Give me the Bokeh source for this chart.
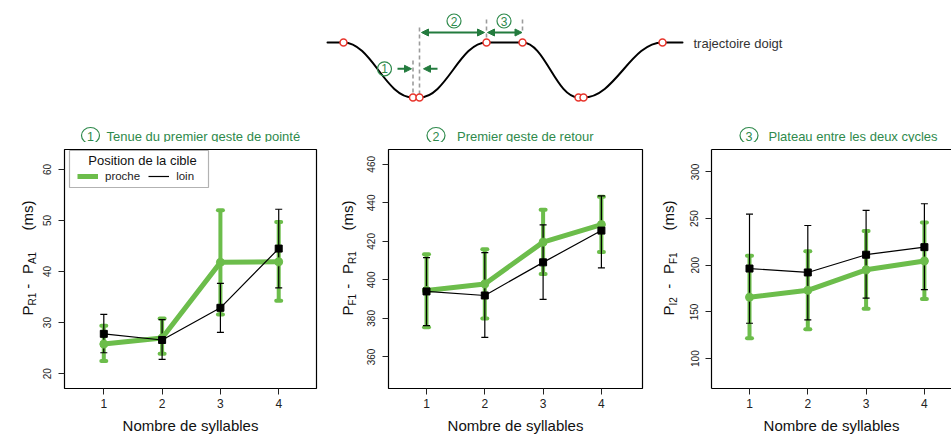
import math
from bokeh.plotting import figure
from bokeh.models import (Range1d, ColumnDataSource, Whisker, TeeHead, Label, BoxAnnotation,
                          Legend, LegendItem, FixedTicker, LinearAxis, Arrow, NormalHead)
from bokeh.layouts import column, row
from bokeh.core.properties import value
from bokeh.embed import file_html
from bokeh.resources import INLINE

FONT = "Liberation Sans"
GREEN = "#6cbd4b"
TITLE_GREEN = "#2f8a4c"
ARROW_GREEN = "#237b3e"
RED = "#e8352c"

# ---------------- data ----------------
syllables = [1, 2, 3, 4]

p1_proche = [25.8, 27.0, 41.8, 41.9]
p1_proche_lo = [22.5, 23.9, 31.6, 34.3]
p1_proche_hi = [29.4, 30.8, 52.0, 49.7]
p1_loin = [27.8, 26.6, 32.9, 44.5]
p1_loin_lo = [24.1, 22.8, 28.1, 36.8]
p1_loin_hi = [31.6, 30.6, 37.7, 52.2]

p2_proche = [394.5, 397.9, 419.6, 428.7]
p2_proche_lo = [375.4, 380.0, 403.1, 414.5]
p2_proche_hi = [413.3, 415.9, 436.4, 443.2]
p2_loin = [394.0, 391.9, 409.1, 425.6]
p2_loin_lo = [376.2, 370.1, 389.9, 406.2]
p2_loin_hi = [411.6, 414.2, 428.6, 443.6]

p3_proche = [165.8, 173.2, 195.1, 204.6]
p3_proche_lo = [121.7, 131.5, 153.4, 164.0]
p3_proche_hi = [210.3, 215.1, 236.7, 245.8]
p3_loin = [196.5, 192.3, 211.3, 219.4]
p3_loin_lo = [137.9, 141.5, 164.8, 173.9]
p3_loin_hi = [254.7, 242.6, 258.9, 265.9]

p1_yticks = [20, 30, 40, 50, 60]
p2_yticks = [360, 380, 400, 420, 440, 460]
p3_yticks = [100, 150, 200, 250, 300]
x_ticks = [1, 2, 3, 4]

panel_titles = ["Tenue du premier geste de pointé", "Premier geste de retour",
                "Plateau entre les deux cycles"]
panel_numbers = ["1", "2", "3"]
legend_title = "Position de la cible"
legend_labels = ["proche", "loin"]
x_label = "Nombre de syllables"

# y-label pieces: (main letter, subscript) pairs
p1_ylab = [("P", "R1"), ("P", "A1")]
p2_ylab = [("P", "F1"), ("P", "R1")]
p3_ylab = [("P", "I2"), ("P", "F1")]

# schematic finger trajectory (key points of the sketch)
traj_x = [327, 343, 412.5, 419, 486, 522, 578, 583, 662, 682]
traj_y = [42, 42, 97, 97, 42, 42, 97, 97, 42, 42]
dot_x = [343, 412.5, 419, 486, 522, 578, 583, 662]
dot_y = [42, 97, 97, 42, 42, 97, 97, 42]
dash_x = [412.5, 419, 486, 522]
dash_y0 = [60, 27, 19, 19]
dash_y1 = [92, 95, 37, 33]


# ---------------- top sketch + panel titles ----------------
top = figure(width=951, height=142, x_range=Range1d(0, 951), y_range=Range1d(142, 0),
             output_backend="svg", toolbar_location=None, x_axis_type=None, y_axis_type=None,
             min_border=0, outline_line_color=None)
top.grid.visible = False

bx0, by0, bx1, by1, c0x, c0y, c1x, c1y = [], [], [], [], [], [], [], []
for i in range(len(traj_x) - 1):
    xa, ya, xb, yb = traj_x[i], traj_y[i], traj_x[i + 1], traj_y[i + 1]
    bx0.append(xa); by0.append(ya); bx1.append(xb); by1.append(yb)
    c0x.append(xa + 0.4 * (xb - xa)); c0y.append(ya)
    c1x.append(xb - 0.4 * (xb - xa)); c1y.append(yb)
top.bezier(x0=bx0, y0=by0, x1=bx1, y1=by1, cx0=c0x, cy0=c0y, cx1=c1x, cy1=c1y,
           line_color="black", line_width=2, line_cap="round")
top.segment(x0=dash_x, y0=dash_y0, x1=dash_x, y1=dash_y1, line_color="#9c9c9c",
            line_width=1.6, line_dash="4 3")
top.scatter(dot_x, dot_y, marker="circle", size=7, fill_color="white",
            line_color=RED, line_width=1.5)

def head():
    return NormalHead(size=7, fill_color=ARROW_GREEN, line_color=ARROW_GREEN)

top.add_layout(Arrow(x_start=421, y_start=32, x_end=484, y_end=32, start=head(), end=head(),
                     line_color=ARROW_GREEN, line_width=2))
top.add_layout(Arrow(x_start=487, y_start=32, x_end=521.5, y_end=32, start=head(), end=head(),
                     line_color=ARROW_GREEN, line_width=2))
top.add_layout(Arrow(x_start=397, y_start=68.3, x_end=411, y_end=68.3, end=head(),
                     line_color=ARROW_GREEN, line_width=2))
top.add_layout(Arrow(x_start=437, y_start=68.3, x_end=423, y_end=68.3, end=head(),
                     line_color=ARROW_GREEN, line_width=2))

sk_num_x = [384, 453.5, 503.5]
sk_num_y = [68.3, 20.5, 20.5]
top.scatter(sk_num_x, sk_num_y, marker="circle", size=14, fill_color=None,
            line_color=TITLE_GREEN, line_width=1.2)
top.text(sk_num_x, sk_num_y, text=panel_numbers, text_align="center", text_baseline="middle",
         text_font=value(FONT), text_font_size="12px", text_color=TITLE_GREEN)
top.text([693], [42.5], text=["trajectoire doigt"], text_baseline="middle",
         text_font=value(FONT), text_font_size="13px", text_color="#333333")

tt_circ_x = [90, 435.5, 748.5]
tt_text_x = [106, 456.5, 768]
top.ellipse(x=tt_circ_x, y=[135] * 3, width=18, height=16, width_units="screen",
            height_units="screen", fill_color=None, line_color=TITLE_GREEN, line_width=1.2)
top.text(tt_circ_x, [135.5] * 3, text=panel_numbers, text_align="center", text_baseline="middle",
         text_font=value(FONT), text_font_size="12.5px", text_color=TITLE_GREEN)
top.text(tt_text_x, [135.5] * 3, text=panel_titles, text_baseline="middle",
         text_font=value(FONT), text_font_size="13px", text_color=TITLE_GREEN)


# ---------------- y-label strips ----------------
def make_ylab(width, x0, ylab, base_x):
    f = figure(width=width, height=294, x_range=Range1d(x0, x0 + width), y_range=Range1d(0, 242),
               output_backend="svg", toolbar_location=None, x_axis_type=None, y_axis_type=None,
               min_border_left=0, min_border_right=0, min_border_top=7, min_border_bottom=45,
               outline_line_color=None)
    f.grid.visible = False
    (m1, s1), (m2, s2) = ylab
    pieces = [(m1, 0, 15, 0), (s1, 10, 10, 5), ("-", 27, 15, 0),
              (m2, 42, 15, 0), (s2, 52, 10, 5), ("(ms)", 86, 15, 0)]
    for txt, off, fs, dx in pieces:
        f.text([base_x + dx], [74 + off], text=[txt], angle=math.pi / 2, text_align="left",
               text_baseline="alphabetic", text_font=value(FONT),
               text_font_size=f"{fs}px", text_color="#111111")
    return f


# ---------------- panels ----------------
def make_panel(width, left, right, xr, yr, yticks, data, boxed=True):
    prc, prc_lo, prc_hi, lo_, lo_lo, lo_hi = data
    p = figure(width=width, height=294, x_range=Range1d(*xr), y_range=Range1d(*yr),
               output_backend="svg", toolbar_location=None,
               min_border_left=left, min_border_right=right, min_border_top=7,
               min_border_bottom=45)
    p.grid.visible = False
    p.xaxis.ticker = FixedTicker(ticks=x_ticks)
    p.yaxis.ticker = FixedTicker(ticks=yticks)
    for ax in (p.xaxis, p.yaxis):
        ax.major_tick_out = 6
        ax.major_tick_in = 0
        ax.minor_tick_line_color = None
        ax.major_tick_line_color = "#222222"
        ax.major_tick_line_width = 1
        ax.major_label_text_font = FONT
        ax.major_label_text_color = "#222222"
    p.xaxis.major_label_text_font_size = "12px"
    p.xaxis.major_label_standoff = 4
    p.yaxis.major_label_text_font_size = "10px"
    p.yaxis.major_label_orientation = "vertical"
    p.yaxis.major_label_standoff = 7
    p.xaxis.axis_label = x_label
    p.xaxis.axis_label_text_font = FONT
    p.xaxis.axis_label_text_font_size = "15px"
    p.xaxis.axis_label_text_font_style = "normal"
    p.xaxis.axis_label_text_color = "#111111"
    p.xaxis.axis_label_standoff = 6
    if boxed:
        p.outline_line_color = "black"
        p.outline_line_width = 1.2
        p.outline_line_alpha = 1
        p.xaxis.axis_line_color = None
        p.yaxis.axis_line_color = None
    else:
        p.outline_line_color = None
        p.xaxis.axis_line_color = "black"
        p.xaxis.axis_line_width = 1.2
        p.yaxis.axis_line_color = "black"
        p.yaxis.axis_line_width = 1.2
        top_ax = LinearAxis(ticker=FixedTicker(ticks=[]), axis_line_color="black",
                            axis_line_width=1.2, major_tick_out=0, major_tick_in=0,
                            minor_tick_out=0, major_label_standoff=0,
                            major_label_text_font_size="0px")
        p.add_layout(top_ax, "above")

    src_g = ColumnDataSource(dict(x=syllables, y=prc, lo=prc_lo, hi=prc_hi))
    src_k = ColumnDataSource(dict(x=syllables, y=lo_, lo=lo_lo, hi=lo_hi))

    p.add_layout(Whisker(base="x", lower="lo", upper="hi", source=src_g, line_color=GREEN,
                         line_width=4,
                         lower_head=TeeHead(size=5, line_color=GREEN, line_width=4, line_cap="round"),
                         upper_head=TeeHead(size=5, line_color=GREEN, line_width=4, line_cap="round")))
    g_line = p.line("x", "y", source=src_g, line_color=GREEN, line_width=5, line_join="round")
    p.scatter("x", "y", source=src_g, marker="circle", size=8, color=GREEN)

    p.add_layout(Whisker(base="x", lower="lo", upper="hi", source=src_k, line_color="black",
                         line_width=1.2,
                         lower_head=TeeHead(size=7, line_color="black", line_width=1.2),
                         upper_head=TeeHead(size=7, line_color="black", line_width=1.2)))
    k_line = p.line("x", "y", source=src_k, line_color="black", line_width=1.2)
    p.scatter("x", "y", source=src_k, marker="square", size=7, color="black")
    return p, g_line, k_line


lab1 = make_ylab(38, -64, p1_ylab, -37)
p1, g1, k1 = make_panel(288, 26, 10, (0.326, 4.648), (17.1, 63.9), p1_yticks,
                        (p1_proche, p1_proche_lo, p1_proche_hi, p1_loin, p1_loin_lo, p1_loin_hi))
lab2 = make_ylab(36, -62, p2_ylab, -41)
p2, _, _ = make_panel(286, 26, 6, (0.348, 4.705), (343.6, 467.7), p2_yticks,
                      (p2_proche, p2_proche_lo, p2_proche_hi, p2_loin, p2_loin_lo, p2_loin_hi))
lab3 = make_ylab(36, -63, p3_ylab, -43)
p3, _, _ = make_panel(267, 27, 0, (0.348, 4.465), (68, 324), p3_yticks,
                      (p3_proche, p3_proche_lo, p3_proche_hi, p3_loin, p3_loin_lo, p3_loin_hi),
                      boxed=False)

# legend of panel 1
p1.add_layout(BoxAnnotation(left=5, right=144, bottom=201, top=238, left_units="screen",
                            right_units="screen", top_units="screen", bottom_units="screen",
                            fill_color="white", fill_alpha=1, line_color="black", line_width=1.2))
leg = Legend(items=[LegendItem(label=legend_labels[0], renderers=[g1]),
                    LegendItem(label=legend_labels[1], renderers=[k1])],
             orientation="horizontal", location=(13, 205), border_line_color=None,
             background_fill_alpha=0, padding=0, margin=0, spacing=8, label_standoff=7,
             glyph_width=21, glyph_height=14, label_height=14,
             label_text_font=FONT, label_text_font_size="11.5px", label_text_color="#222222")
p1.add_layout(leg)
p1.add_layout(Label(x=78, y=228.5, x_units="screen", y_units="screen", text=legend_title,
                    text_align="center", text_baseline="middle", text_font=FONT,
                    text_font_size="13px", text_color="#111111"))

layout = column(top, row(lab1, p1, lab2, p2, lab3, p3))
open("out.html", "w").write(file_html(layout, INLINE))
